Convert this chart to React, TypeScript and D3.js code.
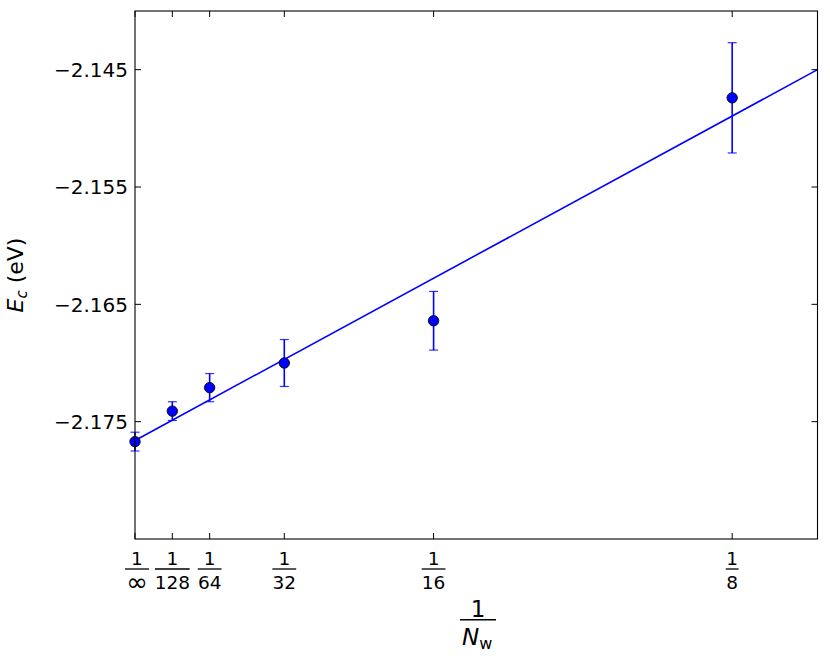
import React, { useEffect } from "react";
import * as d3 from "d3";

// ---- data ----
const denominators: string[] = ["∞", "128", "64", "32", "16", "8"];
const nw: number[] = [Infinity, 128, 64, 32, 16, 8];
const energies: number[] = [-2.1767, -2.1741, -2.1721, -2.17, -2.1664, -2.1474];
const errors: number[] = [0.0008, 0.0008, 0.0012, 0.002, 0.0025, 0.0047];
const yTicks: number[] = [-2.175, -2.165, -2.155, -2.145];
const fitIntercept = -2.1766;
const fitSlope = 0.2212;
const xDomain: [number, number] = [0, 1 / 7];
const yDomain: [number, number] = [-2.185, -2.14];

const W = 830;
const H = 670;
const M = { left: 135, right: 817.5, top: 11, bottom: 539 };
const FONT = "DejaVu Sans, sans-serif";
const BLUE = "#0000ff";

export default function App() {
  useEffect(() => {
    document.body.style.margin = "0";
  }, []);

  const x = d3.scaleLinear().domain(xDomain).range([M.left, M.right]);
  const y = d3.scaleLinear().domain(yDomain).range([M.bottom, M.top]);
  const xs = nw.map((n) => 1 / n);

  const fitLine = d3
    .line<number>()
    .x((v) => x(v))
    .y((v) => y(fitIntercept + fitSlope * v));

  const fmt = (v: number) => d3.format(".3f")(v).replace("-", "\u2212");
  const tickLen = 6;
  const fs = 18.5;
  const denW = (s: string) => (s === "∞" ? 22 : s.length * 10.9);

  return (
    <svg width={W} height={H} style={{ display: "block", background: "#fff" }}>
      {/* fit line */}
      <path d={fitLine(xDomain) || ""} fill="none" stroke={BLUE} strokeWidth={1.6} />

      {/* error bars */}
      {xs.map((xv, i) => (
        <g key={"e" + i}>
          <line
            x1={x(xv)}
            x2={x(xv)}
            y1={y(energies[i] - errors[i])}
            y2={y(energies[i] + errors[i])}
            stroke={BLUE}
            strokeWidth={1.6}
          />
          {[-1, 1].map((s) => (
            <line
              key={s}
              x1={x(xv) - 4.5}
              x2={x(xv) + 4.5}
              y1={y(energies[i] + s * errors[i])}
              y2={y(energies[i] + s * errors[i])}
              stroke={BLUE}
              strokeWidth={1.2}
              strokeOpacity={0.8}
            />
          ))}
        </g>
      ))}

      {/* points */}
      {xs.map((xv, i) => (
        <circle
          key={"p" + i}
          cx={x(xv)}
          cy={y(energies[i])}
          r={5.2}
          fill={BLUE}
          stroke="#000"
          strokeWidth={0.9}
        />
      ))}

      {/* frame */}
      <rect
        x={M.left}
        y={M.top}
        width={M.right - M.left}
        height={M.bottom - M.top}
        fill="none"
        stroke="#000"
        strokeWidth={1.1}
      />

      {/* y ticks */}
      {yTicks.map((t) => (
        <g key={"yt" + t}>
          <line x1={M.left} x2={M.left + tickLen} y1={y(t)} y2={y(t)} stroke="#000" />
          <line x1={M.right} x2={M.right - tickLen} y1={y(t)} y2={y(t)} stroke="#000" />
          <text
            x={M.left - 7}
            y={y(t)}
            dy="0.36em"
            textAnchor="end"
            fontFamily={FONT}
            fontSize={20}
          >
            {fmt(t)}
          </text>
        </g>
      ))}

      {/* x ticks */}
      {xs.map((xv, i) => {
        const cx = x(xv) + (denominators[i] === "∞" ? 2 : 0);
        const bw = denW(denominators[i]) + 2;
        const inf = denominators[i] === "∞";
        return (
          <g key={"xt" + i}>
            <line x1={x(xv)} x2={x(xv)} y1={M.bottom} y2={M.bottom - tickLen} stroke="#000" />
            <line x1={x(xv)} x2={x(xv)} y1={M.top} y2={M.top + tickLen} stroke="#000" />
            <text x={cx} y={564.5} textAnchor="middle" fontFamily={FONT} fontSize={fs}>
              1
            </text>
            <line x1={cx - bw / 2} x2={cx + bw / 2} y1={569} y2={569} stroke="#000" strokeWidth={1.3} />
            <text
              x={cx}
              y={inf ? 591 : 589}
              textAnchor="middle"
              fontFamily={FONT}
              fontSize={inf ? 26 : fs}
            >
              {denominators[i]}
            </text>
          </g>
        );
      })}

      {/* x label */}
      <g>
        <text x={478} y={617} textAnchor="middle" fontFamily={FONT} fontSize={23}>
          1
        </text>
        <line x1={460} x2={496} y1={619.7} y2={619.7} stroke="#000" strokeWidth={1.5} />
        <text x={462} y={645} fontFamily={FONT} fontSize={23}>
          <tspan fontStyle="italic">N</tspan>
          <tspan fontSize={16} dy={4}>w</tspan>
        </text>
      </g>

      {/* y label */}
      <text
        transform={`translate(23, ${(M.top + M.bottom) / 2}) rotate(-90)`}
        textAnchor="middle"
        fontFamily={FONT}
        fontSize={22}
      >
        <tspan fontStyle="italic">E</tspan>
        <tspan fontSize={15} fontStyle="italic" dy={4}>c</tspan>
        <tspan dy={-4}> (eV)</tspan>
      </text>
    </svg>
  );
}
